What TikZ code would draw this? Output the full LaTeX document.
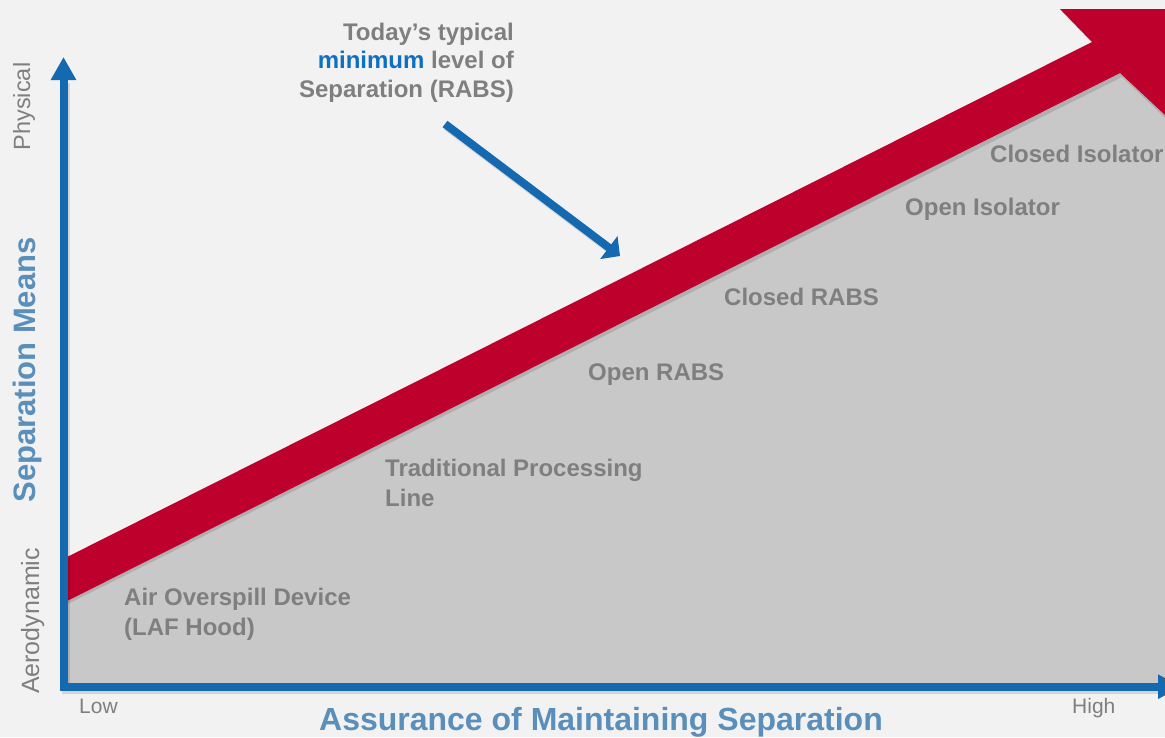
\documentclass[tikz,border=0pt]{standalone}
\usepackage{fontspec}
\setmainfont{Liberation Sans}
\usetikzlibrary{arrows.meta}
\definecolor{bgc}{HTML}{F2F2F2}
\definecolor{fillgray}{HTML}{C8C8C8}
\definecolor{bandred}{HTML}{BE002D}
\definecolor{axisblue}{HTML}{1469B0}
\definecolor{titleblue}{HTML}{5A8EBB}
\definecolor{minblue}{HTML}{0F6FC0}
\definecolor{txtgray}{HTML}{7F7F7F}
\tikzset{
  lbl/.style={inner sep=0pt, text=txtgray, font=\fontsize{24}{28}\selectfont\bfseries},
  small/.style={inner sep=0pt, text=txtgray},
  axtitle/.style={inner sep=0pt, text=titleblue},
  axisline/.style={draw=axisblue, line width=8pt, line join=miter, line cap=butt},
  callout/.style={draw=axisblue, line width=8pt, line cap=butt}
}
\begin{document}
\begin{tikzpicture}[x=1pt,y=-1pt]
\useasboundingbox (0,0) rectangle (1165,737);
\fill[bgc] (0,0) rectangle (1165,737);
\clip (0,0) rectangle (1165,737);

% gray region below the band
\fill[fillgray] (63.5,602.8) -- (1120,73) -- (1180,129) -- (1180,690) -- (63.5,690) -- cycle;

% shadow of band
\fill[black, opacity=0.12] (63.5,561) -- (1094,45) -- (1062,12) -- (1180,12) -- (1180,132) -- (1122,77) -- (63.5,606) -- cycle;
% red band with arrowhead
\fill[bandred] (63.5,558.8) -- (1092,42) -- (1060,9) -- (1180,9) -- (1180,129) -- (1120,73) -- (63.5,602.8) -- cycle;

% axes
\coordinate (xtip) at (1181,686.7);
\coordinate (corner) at (63.5,686.7);
\coordinate (ytip) at (63.5,57);
\draw[black, opacity=0.12, line width=8pt, line join=miter] ([shift={(2,3)}]1160,686.7) -- ([shift={(2,3)}]corner) -- ([shift={(2,3)}]63.5,80);
\draw[axisline, {Triangle[width=23pt,length=23pt]}-{Triangle[width=24pt,length=23pt]}] (xtip) -- (corner) -- (ytip);

% callout arrow
\coordinate (cstart) at (445,124);
\coordinate (cend) at (620,256);
\draw[black, opacity=0.12, line width=8pt] ([shift={(2,3)}]cstart) -- ([shift={(2,3)}]609,247.5);
\draw[callout, -{Triangle[width=28pt,length=14pt]}] (cstart) -- (cend);

% callout text
\node[lbl, anchor=base east] (t1) at (514,40) {Today’s typical};
\node[lbl, anchor=base east] (t2) at (514,68.5) {\textcolor{minblue}{minimum} level of};
\node[lbl, anchor=base east] (t3) at (514,97) {Separation (RABS)};

% labels
\node[lbl, anchor=base west] (ci) at (990,162.5) {Closed Isolator};
\node[lbl, anchor=base west] (oi) at (905,215) {Open Isolator};
\node[lbl, anchor=base west] (cr) at (724,305.5) {Closed RABS};
\node[lbl, anchor=base west] (or) at (588,380) {Open RABS};
\node[lbl, anchor=base west] (tp1) at (385,476.7) {Traditional Processing};
\node[lbl, anchor=base west] (tp2) at (385,506) {Line};
\node[lbl, anchor=base west] (ao1) at (124,605) {Air Overspill Device};
\node[lbl, anchor=base west] (ao2) at (124,635) {(LAF Hood)};

% axis labels
\node[small, font=\fontsize{23.5}{28}\selectfont, rotate=90, anchor=base] (phys) at (30,106.5) {Physical};
\node[small, font=\fontsize{25}{30}\selectfont, rotate=90, anchor=base] (aero) at (39,621) {Aerodynamic};
\node[small, font=\fontsize{21}{25}\selectfont, anchor=base west] (low) at (79,713) {Low};
\node[small, font=\fontsize{21}{25}\selectfont, anchor=base west] (high) at (1072,713) {High};
\node[axtitle, font=\fontsize{31}{36}\selectfont\bfseries, rotate=90, anchor=base] (ytitle) at (35,370) {Separation Means};
\node[axtitle, font=\fontsize{32}{38}\selectfont\bfseries, anchor=base] (xtitle) at (601,730) {Assurance of Maintaining Separation};
\end{tikzpicture}
\end{document}
